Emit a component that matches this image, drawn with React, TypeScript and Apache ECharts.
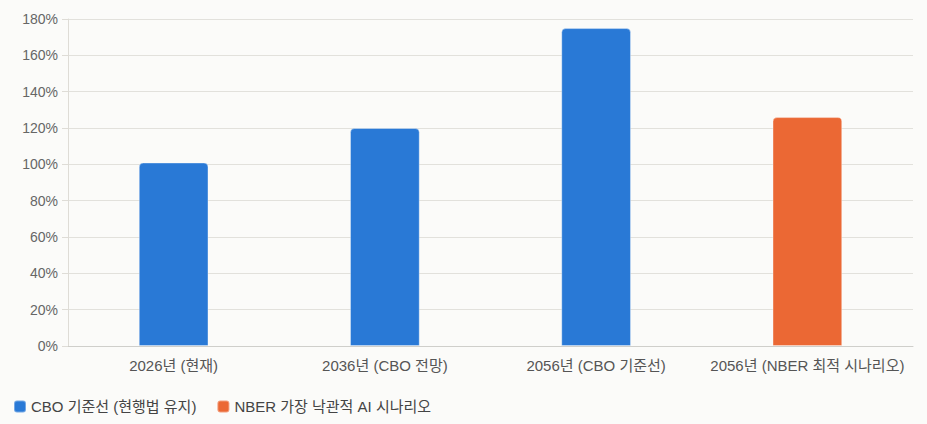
import React, { useEffect, useRef } from "react";
import * as echarts from "echarts";

const categories = ["2026년 (현재)", "2036년 (CBO 전망)", "2056년 (CBO 기준선)", "2056년 (NBER 최적 시나리오)"];
const cboValues: (number | string)[] = [101, 120, 175, "-"];
const nberValues: (number | string)[] = ["-", "-", "-", 126];
const seriesNames = ["CBO 기준선 (현행법 유지)", "NBER 가장 낙관적 AI 시나리오"];
const colors = ["#2979d6", "#eb6834"];

export default function App() {
  const ref = useRef<HTMLDivElement>(null);
  useEffect(() => {
    if (!ref.current) return;
    const chart = echarts.init(ref.current, null, { renderer: "svg" });
    const font = "'Liberation Sans', Arial, 'Noto Sans CJK KR', sans-serif";
    chart.setOption({
      animation: false,
      backgroundColor: "#fbfbf9",
      textStyle: { fontFamily: font },
      grid: { left: 68, right: 14, top: 19, bottom: 78 },
      legend: {
        left: 8,
        bottom: 5,
        itemWidth: 12,
        itemHeight: 12,
        itemGap: 20,
        icon: "roundRect",
        textStyle: { color: "#444", fontSize: 15, fontFamily: font },
        data: seriesNames,
      },
      xAxis: {
        type: "category",
        data: categories,
        axisLine: { lineStyle: { color: "#cfcfcb" } },
        axisTick: { show: false },
        axisLabel: { color: "#555", fontSize: 15, margin: 12, interval: 0, fontFamily: font },
      },
      yAxis: {
        type: "value",
        min: 0,
        max: 180,
        interval: 20,
        axisLine: { show: true, lineStyle: { color: "#dedcd6" } },
        axisTick: { show: true, length: 6, lineStyle: { color: "#dedcd6" } },
        splitLine: { lineStyle: { color: "#e2e1dc" } },
        axisLabel: { color: "#666", fontSize: 14, formatter: "{value}%", margin: 10, fontFamily: font },
      },
      series: [
        {
          name: seriesNames[0],
          type: "bar",
          stack: "s",
          barWidth: "33%",
          data: cboValues,
          itemStyle: { color: colors[0], borderRadius: [4, 4, 0, 0], borderColor: "rgba(255,255,255,0.35)", borderWidth: 1 },
        },
        {
          name: seriesNames[1],
          type: "bar",
          stack: "s",
          barWidth: "33%",
          data: nberValues,
          itemStyle: { color: colors[1], borderRadius: [4, 4, 0, 0], borderColor: "rgba(255,255,255,0.35)", borderWidth: 1 },
        },
      ],
    });
    return () => chart.dispose();
  }, []);
  return <div ref={ref} style={{ width: 927, height: 424, position: "absolute", left: 0, top: 0 }} />;
}
